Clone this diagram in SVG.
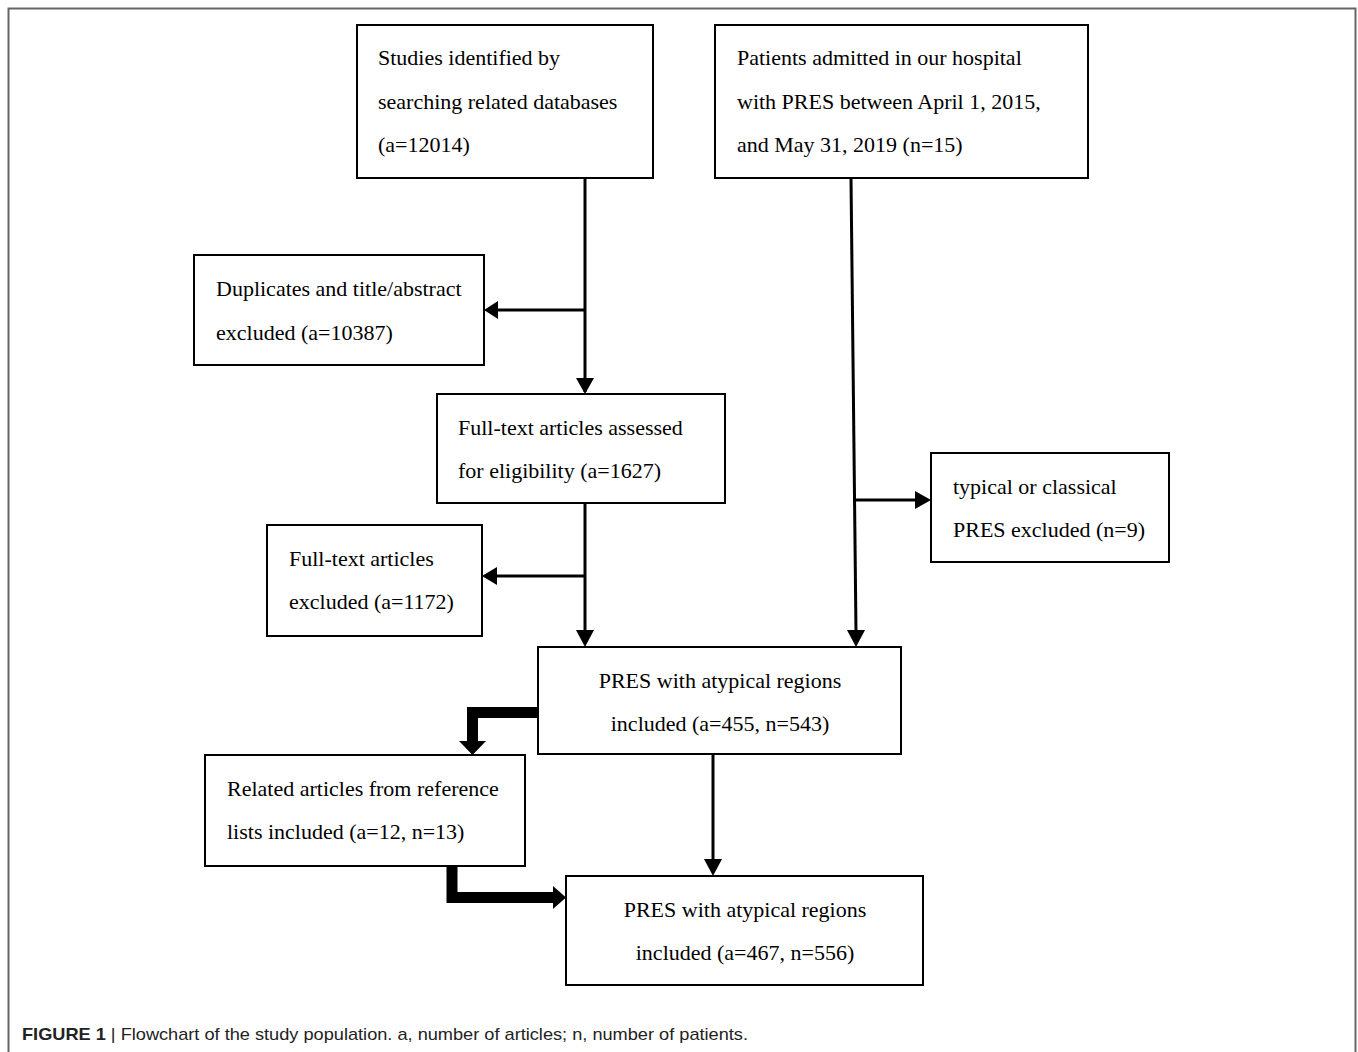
<svg xmlns="http://www.w3.org/2000/svg" width="1358" height="1052" viewBox="0 0 1358 1052">
<defs>
<style>
.box{fill:#fff;stroke:#000;stroke-width:2}
.t{font-family:"Liberation Serif","Times New Roman",serif;font-size:22px;fill:#000}
.c{text-anchor:middle}
.ln{stroke:#000;stroke-width:3;fill:none}
.thick{stroke:#000;stroke-width:11;fill:none}
.cap{font-family:"Liberation Sans",Arial,sans-serif;font-size:17px;fill:#222}
</style>
<marker id="ah" markerWidth="10" markerHeight="10" refX="9" refY="5" orient="auto" markerUnits="userSpaceOnUse" viewBox="0 0 10 10">
<path d="M0,0 L10,5 L0,10 z" fill="#000"/>
</marker>
</defs>
<rect x="0" y="0" width="1358" height="1052" fill="#fff"/>
<path d="M8.5,1052 V8.5 H1355.5 V1052" fill="none" stroke="#666" stroke-width="2"/>

<g id="connectors">
<line class="ln" x1="585" y1="178" x2="585" y2="392" marker-end="url(#ah)" style="marker-end:none"/>
<polygon points="576,378 594,378 585,394" fill="#000"/>
<line class="ln" x1="585" y1="310" x2="498" y2="310"/>
<polygon points="498,301 498,319 484,310" fill="#000"/>
<line class="ln" x1="585" y1="503" x2="585" y2="632"/>
<polygon points="576,630 594,630 585,647" fill="#000"/>
<line class="ln" x1="585" y1="576" x2="496" y2="576"/>
<polygon points="497,567 497,585 482,576" fill="#000"/>
<line class="ln" x1="851" y1="178" x2="856" y2="632"/>
<polygon points="847,630 865,630 856,647" fill="#000"/>
<line class="ln" x1="853" y1="500" x2="916" y2="500"/>
<polygon points="915,491 915,509 931,500" fill="#000"/>
<line class="ln" x1="713" y1="754" x2="713" y2="862"/>
<polygon points="704,859 722,859 713,876" fill="#000"/>
<path class="thick" d="M538,712.5 H472.5 V744"/>
<polygon points="459,741 486,741 472.5,755" fill="#000"/>
<path class="thick" d="M452,866 V897.5 H556"/>
<polygon points="553,886 553,909 566,897.5" fill="#000"/>
</g>

<g id="n1"><rect class="box" x="357" y="25" width="296" height="153"/>
<text class="t" x="378" y="65">Studies identified by</text>
<text class="t" x="378" y="109">searching related databases</text>
<text class="t" x="378" y="152">(a=12014)</text></g>

<g id="n2"><rect class="box" x="715" y="25" width="373" height="153"/>
<text class="t" x="737" y="65">Patients admitted in our hospital</text>
<text class="t" x="737" y="109">with PRES between April 1, 2015,</text>
<text class="t" x="737" y="152">and May 31, 2019 (n=15)</text></g>

<g id="n3"><rect class="box" x="194" y="255" width="290" height="110"/>
<text class="t" x="216" y="296">Duplicates and title/abstract</text>
<text class="t" x="216" y="340">excluded (a=10387)</text></g>

<g id="n4"><rect class="box" x="437" y="394" width="288" height="109"/>
<text class="t" x="458" y="435">Full-text articles assessed</text>
<text class="t" x="458" y="478">for eligibility (a=1627)</text></g>

<g id="n5"><rect class="box" x="267" y="525" width="215" height="111"/>
<text class="t" x="289" y="566">Full-text articles</text>
<text class="t" x="289" y="609">excluded (a=1172)</text></g>

<g id="n6"><rect class="box" x="931" y="453" width="238" height="109"/>
<text class="t" x="953" y="494">typical or classical</text>
<text class="t" x="953" y="537">PRES excluded (n=9)</text></g>

<g id="n7"><rect class="box" x="538" y="647" width="363" height="107"/>
<text class="t c" x="720" y="688">PRES with atypical regions</text>
<text class="t c" x="720" y="731">included (a=455, n=543)</text></g>

<g id="n8"><rect class="box" x="205" y="755" width="320" height="111"/>
<text class="t" x="227" y="796">Related articles from reference</text>
<text class="t" x="227" y="839">lists included (a=12, n=13)</text></g>

<g id="n9"><rect class="box" x="566" y="876" width="357" height="109"/>
<text class="t c" x="745" y="917">PRES with atypical regions</text>
<text class="t c" x="745" y="960">included (a=467, n=556)</text></g>

<text class="cap" x="22" y="1040" textLength="726" lengthAdjust="spacingAndGlyphs"><tspan font-weight="bold">FIGURE 1</tspan> | Flowchart of the study population. a, number of articles; n, number of patients.</text>
</svg>
